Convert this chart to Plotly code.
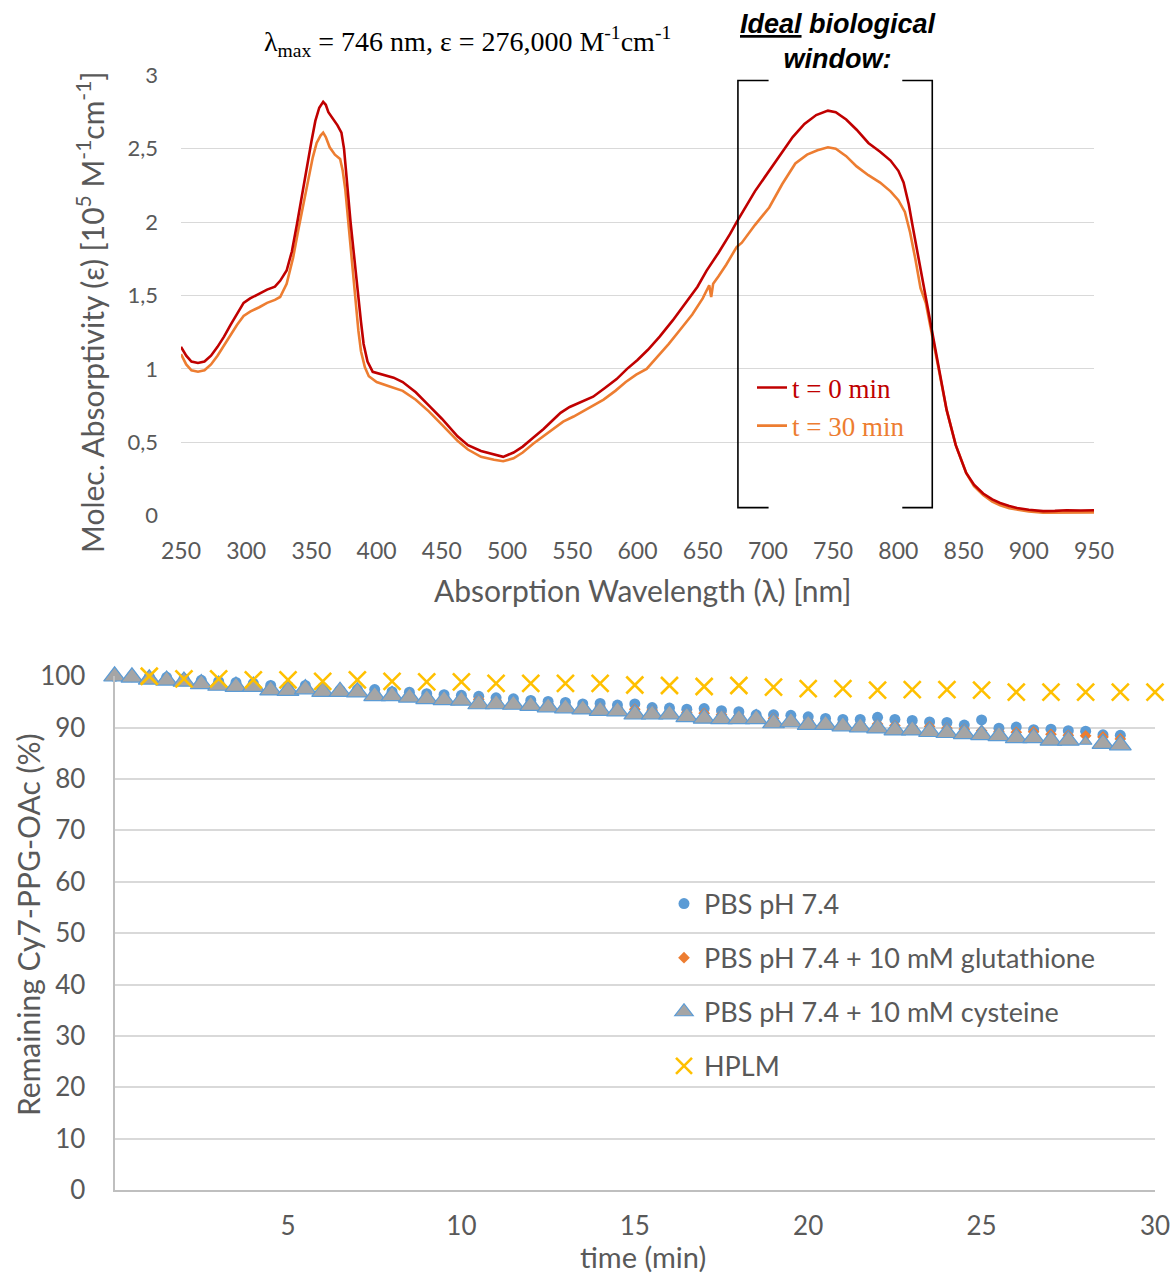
import plotly.graph_objects as go

# ---------------- absorption spectra ----------------
wl_t0 = [250, 254, 258, 263, 268, 273, 278, 283, 288, 293, 298, 303, 310, 316, 322, 326,
         331, 335, 339, 343, 346, 350, 353, 356, 359, 361, 363, 366, 370, 373, 375, 376,
         378, 380, 382, 384, 386, 388, 390, 393, 397, 405, 413, 420, 430, 439, 450, 462,
         470, 480, 490, 497, 505, 512, 520, 528, 535, 541, 548, 556, 566, 575, 584, 592,
         600, 608, 617, 627, 638, 646, 653, 662, 671, 676, 690, 701, 710, 719, 728, 737,
         746, 752, 760, 768, 777, 786, 794, 800, 804, 808, 811, 815, 819, 822, 826, 831,
         837, 844, 852, 858, 865, 872, 878, 885, 891, 900, 911, 920, 929, 940, 950]
eps_t0 = [1.15, 1.09, 1.05, 1.04, 1.05, 1.09, 1.15, 1.22, 1.30, 1.38, 1.45, 1.48, 1.51, 1.54, 1.56, 1.60,
          1.67, 1.80, 1.99, 2.20, 2.35, 2.55, 2.69, 2.78, 2.82, 2.80, 2.75, 2.71, 2.66, 2.61, 2.50, 2.40,
          2.17, 2.00, 1.83, 1.65, 1.49, 1.32, 1.17, 1.05, 0.98, 0.96, 0.94, 0.91, 0.84, 0.76, 0.66, 0.54,
          0.48, 0.44, 0.415, 0.40, 0.43, 0.47, 0.53, 0.59, 0.65, 0.70, 0.74, 0.77, 0.81, 0.87, 0.93, 1.00,
          1.06, 1.13, 1.22, 1.33, 1.46, 1.56, 1.67, 1.79, 1.92, 2.00, 2.21, 2.35, 2.47, 2.58, 2.67, 2.73,
          2.76, 2.75, 2.70, 2.63, 2.54, 2.48, 2.42, 2.35, 2.27, 2.12, 1.97, 1.78, 1.58, 1.45, 1.24, 1.02,
          0.72, 0.48, 0.29, 0.21, 0.15, 0.11, 0.086, 0.065, 0.052, 0.04, 0.03, 0.032, 0.036, 0.035, 0.036]

wl_t30 = [250, 254, 258, 263, 268, 273, 278, 283, 288, 293, 298, 303, 310, 316, 322, 326,
          331, 336, 340, 344, 348, 351, 354, 357, 359, 361, 364, 368, 372, 374, 376, 378,
          380, 382, 384, 386, 388, 391, 394, 400, 410, 420, 430, 440, 450, 462, 470, 480,
          490, 497, 505, 512, 520, 528, 536, 543, 551, 560, 567, 574, 583, 591, 599, 607,
          615, 624, 633, 642, 650, 652, 655, 656.5, 658, 662, 668, 676, 680, 690, 701, 711,
          721, 730, 738, 746, 752, 760, 768, 777, 786, 794, 800, 805, 809, 813, 817, 821,
          826, 831, 837, 844, 852, 858, 865, 872, 878, 885, 891, 900, 911, 920, 929, 940, 950]
eps_t30 = [1.10, 1.03, 0.99, 0.98, 0.99, 1.03, 1.09, 1.16, 1.23, 1.30, 1.36, 1.39, 1.42, 1.45, 1.47, 1.49,
           1.58, 1.76, 1.95, 2.12, 2.30, 2.44, 2.54, 2.59, 2.61, 2.58, 2.51, 2.46, 2.43, 2.35, 2.22, 2.02,
           1.82, 1.63, 1.42, 1.26, 1.12, 1.01, 0.95, 0.91, 0.88, 0.85, 0.79, 0.71, 0.62, 0.51, 0.45, 0.40,
           0.38, 0.37, 0.39, 0.43, 0.49, 0.54, 0.59, 0.64, 0.675, 0.72, 0.75, 0.79, 0.85, 0.91, 0.96, 1.00,
           1.08, 1.17, 1.27, 1.37, 1.48, 1.52, 1.57, 1.49, 1.58, 1.63, 1.71, 1.83, 1.86, 1.98, 2.10, 2.26,
           2.40, 2.46, 2.49, 2.51, 2.50, 2.45, 2.38, 2.32, 2.27, 2.21, 2.15, 2.07, 1.93, 1.75, 1.55, 1.45,
           1.22, 1.00, 0.72, 0.48, 0.29, 0.20, 0.14, 0.095, 0.07, 0.05, 0.04, 0.028, 0.02, 0.02, 0.022, 0.022, 0.022]

wl_ticks = list(range(250, 951, 50))
eps_ticks = [0, 0.5, 1, 1.5, 2, 2.5, 3]
eps_ticktext = ["0", "0,5", "1", "1,5", "2", "2,5", "3"]

# ---------------- stability over time ----------------
time_buf = [i * 0.5 for i in range(59)]  # 0 ... 29 min
pbs = [100.0, 100.0, 99.9, 99.8, 99.5, 99.2, 99.0, 98.8, 98.6, 98.2, 98.1, 98.2, 97.8, 97.3, 97.4,
       97.4, 97.0, 96.9, 96.6, 96.4, 96.3, 96.1, 95.8, 95.6, 95.3, 95.1, 94.9, 94.6, 94.7, 94.4,
       94.6, 93.9, 93.8, 93.6, 93.7, 93.3, 93.1, 92.5, 92.5, 92.4, 92.1, 91.8, 91.6, 91.6, 92.0,
       91.6, 91.4, 91.1, 91.0, 90.5, 91.5, 89.9, 90.1, 89.6, 89.7, 89.4, 89.3, 88.6, 88.5]
gsh = [100.0, 99.9, 99.6, 99.5, 99.2, 98.9, 98.7, 98.4, 98.3, 97.9, 97.7, 97.8, 97.4, 97.2, 97.1,
       96.8, 96.6, 96.4, 96.1, 95.9, 95.8, 95.5, 95.3, 95.0, 94.8, 94.6, 94.3, 94.1, 94.0, 93.8,
       93.6, 93.4, 93.1, 92.9, 92.8, 92.5, 92.3, 92.0, 91.8, 91.6, 91.3, 91.1, 90.9, 90.7, 90.7,
       90.4, 90.2, 90.2, 89.9, 89.7, 89.4, 89.2, 89.1, 89.2, 88.7, 88.5, 88.4, 88.2, 87.8]
cys = [100.0, 99.8, 99.4, 99.2, 99.0, 98.5, 98.2, 98.0, 98.0, 97.3, 97.2, 97.5, 97.0, 97.0, 96.9,
       96.2, 96.2, 95.9, 95.6, 95.4, 95.3, 94.6, 94.6, 94.5, 94.3, 94.0, 93.8, 93.6, 93.3, 93.2,
       92.6, 92.6, 92.6, 92.1, 91.8, 91.7, 91.7, 91.7, 90.9, 91.1, 90.6, 90.6, 90.3, 90.1, 89.9,
       89.5, 89.5, 89.2, 89.0, 88.8, 88.6, 88.4, 88.0, 88.0, 87.5, 87.5, 87.3, 86.9, 86.6]
time_hplm = list(range(1, 31))
hplm = [100.0, 99.5, 99.5, 99.3, 99.3, 99.0, 99.3, 99.0, 98.9, 98.9, 98.6, 98.6, 98.6, 98.6, 98.3,
        98.2, 98.0, 98.2, 97.9, 97.6, 97.6, 97.3, 97.4, 97.4, 97.3, 96.9, 96.9, 96.9, 96.9, 96.9]

time_ticks = [5, 10, 15, 20, 25, 30]
pct_ticks = list(range(0, 101, 10))

# ---------------- styling ----------------
W, H = 1173, 1274
SANS = "Lato, 'Open Sans', sans-serif"
SERIF = "'Liberation Serif', 'Times New Roman', serif"
ARIAL = "'Liberation Sans', Arial, sans-serif"
GREY_TXT = "#595959"
GRID = "#d9d9d9"

fig = go.Figure()

# spectra (t = 30 min drawn first so the t = 0 trace sits on top)
fig.add_trace(go.Scatter(x=wl_t30, y=eps_t30, mode="lines", name="<span style='color:#ed7d31'>t = 30 min</span>",
                         line=dict(color="#ed7d31", width=2.6), legend="legend", legendrank=2,
                         xaxis="x", yaxis="y"))
fig.add_trace(go.Scatter(x=wl_t0, y=eps_t0, mode="lines", name="<span style='color:#c00000'>t = 0 min</span>",
                         line=dict(color="#c00000", width=2.6), legend="legend", legendrank=1,
                         xaxis="x", yaxis="y"))

# stability series
cys_sizes = [11 if t == 28 else 19 for t in time_buf]
fig.add_trace(go.Scatter(x=time_buf, y=pbs, mode="markers", name="PBS pH 7.4",
                         marker=dict(symbol="circle", size=11, color="#5b9bd5", opacity=1),
                         legend="legend2", legendgroup="a", cliponaxis=False, xaxis="x2", yaxis="y2"))
fig.add_trace(go.Scatter(x=time_buf, y=gsh, mode="markers", name="PBS pH 7.4 + 10 mM glutathione",
                         marker=dict(symbol="diamond", size=9, color="#ed7d31", opacity=1),
                         legend="legend2", legendgroup="b", cliponaxis=False, xaxis="x2", yaxis="y2"))
fig.add_trace(go.Scatter(x=time_buf, y=cys, mode="markers", name="PBS pH 7.4 + 10 mM cysteine",
                         marker=dict(symbol="triangle-up", size=cys_sizes, color="#a5a5a5", opacity=1,
                                     line=dict(color="#5b9bd5", width=1.2)),
                         legend="legend2", legendgroup="c", cliponaxis=False, xaxis="x2", yaxis="y2"))
fig.add_trace(go.Scatter(x=time_hplm, y=hplm, mode="markers", name="HPLM",
                         marker=dict(symbol="x-thin", size=17, color="#ffc000", opacity=1,
                                     line=dict(color="#ffc000", width=2.6)),
                         legend="legend2", legendgroup="d", cliponaxis=False, xaxis="x2", yaxis="y2"))

# biological window brackets
bracket = dict(type="path", xref="x", yref="y", line=dict(color="black", width=1.6))
fig.add_shape(path="M 700.5,2.966 L 677,2.966 L 677,0.054 L 700.5,0.054", **bracket)
fig.add_shape(path="M 803,2.966 L 826,2.966 L 826,0.054 L 803,0.054", **bracket)

annotations = [
    dict(text="λ<sub>max</sub> = 746 nm, ε = 276,000 M<sup>-1</sup>cm<sup>-1</sup>",
         x=467 / W, y=1 - 42 / H, font=dict(family=SERIF, size=28, color="black")),
    dict(text="<b><i><u>Ideal</u> biological<br>window:</i></b>",
         x=838 / W, y=1 - 41 / H, font=dict(family=ARIAL, size=27, color="black")),
    dict(text="Molec. Absorptivity (ε) [10<sup>5</sup> M<sup>-1</sup>cm<sup>-1</sup>]",
         x=90 / W, y=1 - 312 / H, textangle=-90, font=dict(family=SANS, size=30, color=GREY_TXT)),
    dict(text="Absorption Wavelength (λ) [nm]",
         x=642 / W, y=1 - 590 / H, font=dict(family=SANS, size=30, color=GREY_TXT)),
    dict(text="Remaining Cy7-PPG-OAc (%)",
         x=28 / W, y=1 - 925 / H, textangle=-90, font=dict(family=SANS, size=30, color=GREY_TXT)),
    dict(text="time (min)",
         x=643 / W, y=1 - 1256 / H, font=dict(family=SANS, size=29, color=GREY_TXT)),
]
for a in annotations:
    a.update(xref="paper", yref="paper", showarrow=False, xanchor="center", yanchor="middle")

fig.update_layout(
    width=W, height=H,
    margin=dict(l=0, r=0, t=0, b=0, pad=0, autoexpand=False),
    paper_bgcolor="white", plot_bgcolor="white",
    annotations=annotations,
    xaxis=dict(domain=[181 / W, 1094 / W], anchor="y", range=[250, 950], tickvals=wl_ticks,
               showgrid=False, zeroline=False, showline=False, ticks="", ticklabelstandoff=19,
               automargin=False, tickfont=dict(family=SANS, size=23, color=GREY_TXT)),
    yaxis=dict(domain=[1 - 516 / H, 1 - 75 / H], anchor="x", range=[-0.003, 3.003], tickvals=eps_ticks,
               ticktext=eps_ticktext, gridcolor=GRID, gridwidth=1.4, zeroline=False, showline=False,
               ticks="", ticklabelstandoff=22, automargin=False,
               tickfont=dict(family=SANS, size=22, color=GREY_TXT)),
    xaxis2=dict(domain=[114.6 / W, 1155 / W], anchor="y2", range=[0, 30], tickvals=time_ticks,
                showgrid=False, zeroline=False, showline=True, linecolor="#bfbfbf", linewidth=2,
                ticks="", ticklabelstandoff=12, automargin=False,
                tickfont=dict(family=SANS, size=26, color=GREY_TXT)),
    yaxis2=dict(domain=[1 - 1190 / H, 1 - 676 / H], anchor="x2", range=[0, 100.05], tickvals=pct_ticks,
                gridcolor=GRID, gridwidth=2, zeroline=False, showline=True, linecolor="#bfbfbf",
                linewidth=2, ticks="", ticklabelstandoff=22, automargin=False,
                tickfont=dict(family=SANS, size=26, color=GREY_TXT)),
    legend=dict(x=752 / W, y=1 - 407 / H, xanchor="left", yanchor="middle",
                bgcolor="rgba(0,0,0,0)", font=dict(family=SERIF, size=27), itemwidth=30),
    legend2=dict(x=664 / W, y=1 - 985 / H, xanchor="left", yanchor="middle",
                 bgcolor="rgba(0,0,0,0)", font=dict(family=SANS, size=27, color=GREY_TXT),
                 traceorder="grouped", tracegroupgap=16),
    showlegend=True,
)

fig.write_html("out.html")
